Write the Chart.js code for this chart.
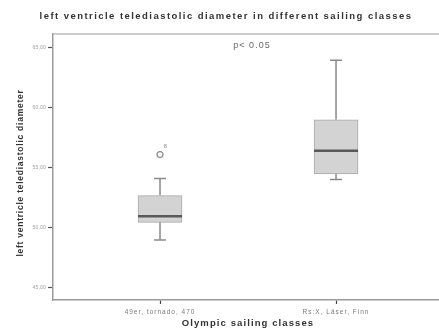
<!DOCTYPE html>
<html>
<head>
<meta charset="utf-8">
<script src="https://cdn.jsdelivr.net/npm/chart.js@4/dist/chart.umd.min.js"></script>
<style>
  html, body { margin: 0; padding: 0; background: #ffffff; }
  #wrap { width: 439px; height: 329px; }
</style>
</head>
<body>
<div id="wrap"><canvas id="chart" width="439" height="329"></canvas></div>
<script>
// Sailing class groups and the five-number summaries of each box
const categories = ['49er, tornado, 470', 'Rs:X, Läser, Finn'];
const whiskerLow = [48.97, 54.0];
const q1 = [50.44, 54.47];
const median = [50.94, 56.4];
const q3 = [52.67, 58.97];
const whiskerHigh = [54.08, 63.92];

// Outlying case (group index, value, case number)
const outlierGroup = [0];
const outlierValue = [56.08];
const outlierCase = ['8'];

const yTicks = [45, 50, 55, 60, 65];

const chartTitle = 'left ventricle telediastolic diameter in different sailing classes';
const yTitle = 'left ventricle telediastolic diameter';
const xTitle = 'Olympic sailing classes';
const note = 'p< 0.05';

const FONT = '"Liberation Sans", Arial, Helvetica, sans-serif';

// Give one axis its own letter spacing when its labels are drawn
function spacedLabels(scale, spacing) {
  if (scale._spacedPatched) return;
  scale._spacedPatched = true;
  const base = scale.drawLabels;
  scale.drawLabels = function (area) {
    const ctx = this.ctx;
    ctx.save();
    ctx.letterSpacing = spacing;
    base.call(this, area);
    ctx.restore();
  };
}

// Whiskers, caps, medians, outlier labels, frame and free text
const boxExtras = {
  id: 'boxExtras',
  beforeDatasetsDraw(chart) {
    const { ctx, scales: { x, y } } = chart;
    ctx.save();
    ctx.strokeStyle = '#8a8a8a';
    ctx.lineWidth = 1.5;
    categories.forEach((c, i) => {
      const px = x.getPixelForValue(i);
      const capHalf = 6;
      const hi = y.getPixelForValue(whiskerHigh[i]);
      const top = y.getPixelForValue(q3[i]);
      const lo = y.getPixelForValue(whiskerLow[i]);
      const bot = y.getPixelForValue(q1[i]);
      ctx.beginPath();
      ctx.moveTo(px, top); ctx.lineTo(px, hi);
      ctx.moveTo(px - capHalf, hi); ctx.lineTo(px + capHalf, hi);
      ctx.moveTo(px, bot); ctx.lineTo(px, lo);
      ctx.moveTo(px - capHalf, lo); ctx.lineTo(px + capHalf, lo);
      ctx.stroke();
    });
    ctx.restore();
  },
  afterDatasetsDraw(chart) {
    const { ctx, chartArea, scales: { x, y } } = chart;
    ctx.save();
    // medians
    ctx.strokeStyle = '#595959';
    ctx.lineWidth = 2.5;
    categories.forEach((c, i) => {
      const px = x.getPixelForValue(i);
      const my = y.getPixelForValue(median[i]);
      ctx.beginPath();
      ctx.moveTo(px - 22, my); ctx.lineTo(px + 22, my);
      ctx.stroke();
    });
    // outlier case numbers
    ctx.fillStyle = '#777';
    ctx.font = '5px ' + FONT;
    ctx.letterSpacing = '0px';
    ctx.textAlign = 'left';
    ctx.textBaseline = 'middle';
    outlierGroup.forEach((g, k) => {
      ctx.fillText(outlierCase[k], x.getPixelForValue(g) + 4, y.getPixelForValue(outlierValue[k]) - 8);
    });
    // upper frame line
    ctx.strokeStyle = '#bdbdbd';
    ctx.lineWidth = 1.5;
    ctx.beginPath();
    ctx.moveTo(chartArea.left, chartArea.top);
    ctx.lineTo(chartArea.right, chartArea.top);
    ctx.stroke();
    // p-value note
    ctx.fillStyle = '#6a6a6a';
    ctx.font = '9px ' + FONT;
    ctx.letterSpacing = '1px';
    ctx.textAlign = 'center';
    ctx.fillText(note, 252, 45.5);
    // chart title
    ctx.fillStyle = '#333';
    ctx.font = 'bold 9.5px ' + FONT;
    ctx.letterSpacing = '1.45px';
    ctx.fillText(chartTitle, 226, 16.5);
    // axis titles
    ctx.font = 'bold 9.5px ' + FONT;
    ctx.letterSpacing = '1.1px';
    ctx.fillText(xTitle, 248, 323);
    ctx.translate(21, 173);
    ctx.rotate(-Math.PI / 2);
    ctx.font = 'bold 8.5px ' + FONT;
    ctx.letterSpacing = '0.75px';
    ctx.fillText(yTitle, 0, 0);
    ctx.restore();
  }
};

new Chart(document.getElementById('chart'), {
  type: 'bar',
  data: {
    datasets: [
      {
        type: 'bar',
        data: categories.map((c, i) => ({ x: i, y: [q1[i], q3[i]] })),
        backgroundColor: '#d3d3d3',
        borderColor: '#a9a9a9',
        borderWidth: 1,
        borderSkipped: false,
        barThickness: 44,
        order: 2
      },
      {
        type: 'scatter',
        data: outlierGroup.map((g, k) => ({ x: g, y: outlierValue[k] })),
        pointStyle: 'circle',
        pointRadius: 3,
        pointBackgroundColor: '#ffffff',
        pointBorderColor: '#8a8a8a',
        pointBorderWidth: 1.2,
        order: 1
      }
    ]
  },
  options: {
    responsive: false,
    animation: false,
    devicePixelRatio: 1,
    layout: { autoPadding: false, padding: { top: 34, right: 0, left: 0, bottom: 0 } },
    plugins: {
      legend: { display: false },
      tooltip: { enabled: false },
      title: { display: false }
    },
    scales: {
      x: {
        type: 'linear',
        offset: false,
        min: -0.608,
        max: 1.585,
        afterBuildTicks(scale) { scale.ticks = categories.map((c, i) => ({ value: i })); },
        afterFit(scale) {
          scale.height = 29;
          scale.paddingLeft = 0;
          scale.paddingRight = 0;
          spacedLabels(scale, '1px');
        },
        ticks: {
          callback: (v) => categories[v],
          color: '#7a7a7a',
          font: { family: FONT, size: 6.5 },
          maxRotation: 0,
          autoSkip: false,
          padding: 4
        },
        grid: { offset: false, drawOnChartArea: false, drawTicks: true, tickLength: 4, tickColor: '#444', tickWidth: 1.2 },
        border: { display: true, color: '#9a9a9a', width: 1.5 }
      },
      y: {
        type: 'linear',
        min: 43.98,
        max: 66.11,
        afterBuildTicks(scale) { scale.ticks = yTicks.map(v => ({ value: v })); },
        afterFit(scale) {
          scale.width = 53;
          scale.paddingTop = 0;
          scale.paddingBottom = 0;
          spacedLabels(scale, '0.2px');
        },
        ticks: {
          callback: (v) => v.toFixed(2).replace('.', ','),
          color: '#a0a0a0',
          font: { family: FONT, size: 5 },
          padding: 2
        },
        grid: { drawOnChartArea: false, drawTicks: true, tickLength: 5, tickColor: '#555', tickWidth: 1.2 },
        border: { display: true, color: '#9a9a9a', width: 1.5 }
      }
    }
  },
  plugins: [boxExtras]
});
</script>
</body>
</html>
